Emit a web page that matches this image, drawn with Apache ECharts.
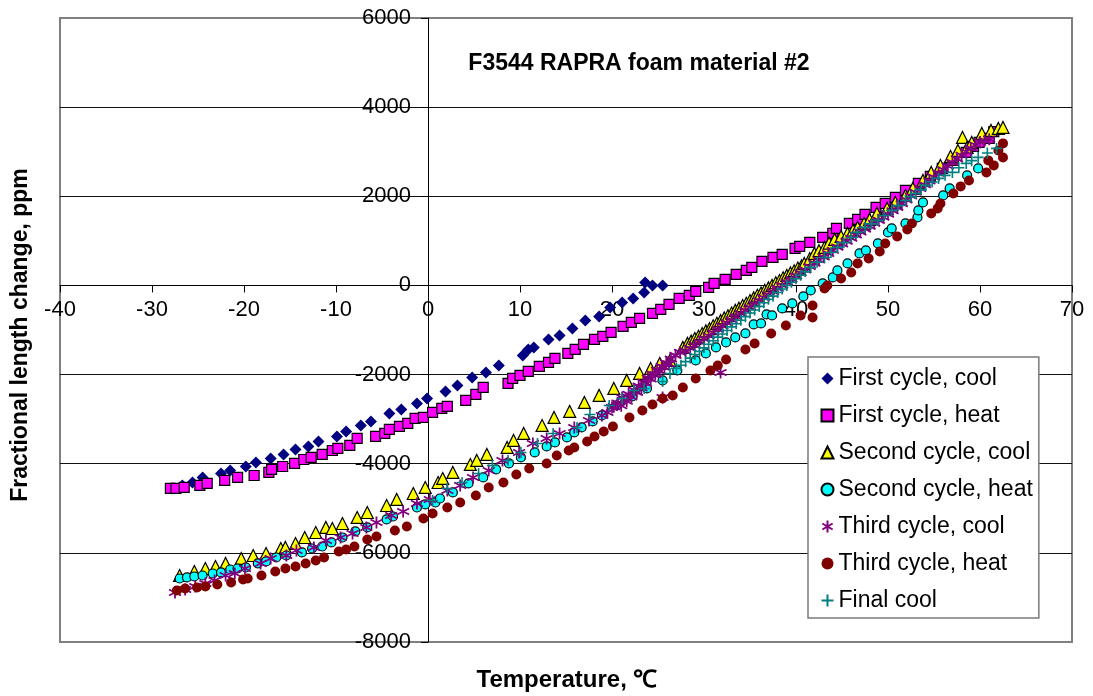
<!DOCTYPE html>
<html>
<head>
<meta charset="utf-8">
<script src="https://cdn.jsdelivr.net/npm/echarts@6/dist/echarts.min.js"></script>
<style>
html,body{margin:0;padding:0;background:#fff;}
#chart{width:1093px;height:696px;}
</style>
</head>
<body>
<div id="chart"></div>
<script>
var titleText = "F3544 RAPRA foam material #2";
var xName = "Temperature, \u2103";
var yName = "Fractional length change, ppm";
var seriesNames = ["First cycle, cool","First cycle, heat","Second cycle, cool","Second cycle, heat","Third cycle, cool","Third cycle, heat","Final cool"];

var firstCool = [[-27.8,-4555],[-26.7,-4488],[-25.6,-4421],[-24.5,-4308],[-22.5,-4219],[-21.5,-4151],[-19.8,-4062],[-18.7,-3972],[-17.1,-3882],[-15.7,-3792],[-14.4,-3680],[-13.0,-3613],[-11.9,-3501],[-9.9,-3388],[-8.9,-3276],[-7.3,-3142],[-6.2,-3052],[-4.2,-2872],[-2.9,-2783],[-1.2,-2648],[-0.1,-2536],[1.9,-2379],[3.2,-2244],[4.8,-2064],[6.3,-1952],[7.7,-1795],[10.3,-1571],[10.9,-1436],[11.5,-1391],[13.1,-1212],[14.3,-1122],[15.7,-965],[17.1,-785],[18.6,-696],[19.8,-494],[21.1,-381],[22.3,-292],[23.5,-157],[23.6,67],[24.4,0],[25.5,0]];

var firstHeat = [[-28.0,-4555],[-27.4,-4555],[-26.5,-4533],[-24.8,-4488],[-24.0,-4443],[-22.1,-4376],[-20.7,-4308],[-18.9,-4264],[-17.3,-4196],[-17.0,-4129],[-15.8,-4062],[-14.5,-3994],[-13.5,-3905],[-12.7,-3860],[-11.5,-3792],[-10.4,-3703],[-9.8,-3658],[-8.5,-3590],[-7.7,-3433],[-5.7,-3388],[-4.7,-3321],[-4.2,-3231],[-3.1,-3164],[-2.2,-3097],[-1.4,-2985],[-0.5,-2962],[0.5,-2850],[1.5,-2760],[2.1,-2715],[4.1,-2581],[5.2,-2446],[6.0,-2289],[8.7,-2199],[9.2,-2087],[10.0,-2020],[10.9,-1930],[12.1,-1818],[13.1,-1728],[13.8,-1638],[15.2,-1526],[16.0,-1436],[16.9,-1324],[18.1,-1212],[19.0,-1144],[19.9,-1055],[21.2,-920],[22.1,-830],[23.0,-741],[24.4,-628],[25.3,-539],[26.2,-426],[27.3,-292],[28.4,-224],[29.1,-135],[30.5,-45],[31.1,45],[32.3,135],[33.5,247],[34.6,337],[35.2,404],[36.3,539],[37.5,628],[38.5,696],[39.9,830],[40.4,875],[41.5,965],[42.9,1077],[44.0,1167],[44.4,1279],[45.8,1391],[46.7,1481],[47.5,1593],[48.7,1750],[49.7,1840],[50.8,1975],[51.9,2132],[53.3,2289],[54.6,2446],[55.9,2625],[57.1,2805],[58.5,2985],[59.3,3119],[59.9,3209],[61.0,3300],[61.5,3450]];

var secondCool = [[-27.0,-6508],[-25.4,-6418],[-24.2,-6351],[-23.1,-6306],[-22.0,-6238],[-20.3,-6126],[-19.0,-6059],[-17.6,-6014],[-16.0,-5902],[-15.5,-5879],[-14.4,-5790],[-13.4,-5655],[-12.2,-5543],[-11.1,-5430],[-10.4,-5453],[-9.3,-5341],[-7.7,-5206],[-6.6,-5094],[-4.5,-4937],[-3.4,-4802],[-1.6,-4668],[-0.3,-4533],[1.1,-4421],[1.6,-4331],[2.7,-4196],[4.6,-4017],[5.3,-3927],[6.4,-3792],[8.6,-3635],[9.3,-3478],[10.4,-3321],[12.4,-3142],[13.7,-2962],[15.4,-2827],[17.0,-2625],[18.6,-2468],[20.2,-2311],[21.6,-2132],[23.0,-1975],[24.2,-1862],[25.2,-1750],[26.3,-1683],[27.7,-1391],[28.2,-1300],[28.6,-1250],[29.0,-1190],[29.4,-1140],[29.8,-1080],[30.2,-1020],[30.6,-970],[31.0,-905],[31.4,-850],[31.8,-790],[32.2,-730],[32.6,-680],[33.0,-620],[33.4,-560],[33.8,-510],[34.2,-450],[34.6,-400],[35.0,-340],[35.4,-280],[35.8,-220],[36.2,-170],[36.6,-110],[37.0,-55],[37.4,0],[37.8,60],[38.2,110],[38.6,170],[39.0,225],[39.4,280],[39.8,330],[40.2,390],[40.6,440],[40.9,494],[41.5,600],[42.0,718],[42.5,780],[43.1,853],[43.6,950],[44.2,1032],[44.9,1100],[45.6,1167],[46.2,1240],[46.7,1302],[47.4,1390],[48.0,1481],[48.8,1616],[49.9,1728],[50.8,1862],[51.9,2020],[52.7,2177],[53.8,2356],[54.7,2536],[55.7,2693],[56.8,2895],[57.6,3029],[58.1,3321],[58.6,3097],[59.1,3209],[60.2,3411],[61.2,3478],[62.0,3523],[62.5,3545]];

var secondHeat = [[-27.0,-6575],[-26.2,-6552],[-25.4,-6530],[-24.5,-6508],[-23.4,-6463],[-22.5,-6440],[-21.5,-6373],[-20.7,-6351],[-19.8,-6328],[-18.5,-6238],[-17.6,-6193],[-16.5,-6104],[-15.4,-6059],[-13.7,-5991],[-12.6,-5902],[-11.5,-5857],[-10.5,-5767],[-9.3,-5655],[-7.9,-5520],[-6.6,-5430],[-4.5,-5251],[-3.8,-5184],[-1.2,-4982],[-0.3,-4914],[0.8,-4870],[1.3,-4780],[2.7,-4645],[4.4,-4443],[6.0,-4308],[7.4,-4129],[8.8,-3994],[10.1,-3860],[11.6,-3747],[12.9,-3613],[13.8,-3523],[15.1,-3411],[15.9,-3299],[16.7,-3186],[17.9,-3052],[18.9,-2917],[20.5,-2693],[22.2,-2491],[23.8,-2311],[25.5,-2132],[27.1,-1907],[29.1,-1683],[30.2,-1526],[31.3,-1391],[32.4,-1279],[33.4,-1167],[34.5,-1077],[35.4,-875],[36.2,-853],[36.8,-651],[37.4,-673],[38.5,-516],[39.6,-404],[40.8,-247],[41.6,-112],[42.9,45],[44.0,180],[44.5,337],[45.6,494],[46.9,718],[47.6,785],[48.9,942],[50.0,1189],[50.4,1279],[51.9,1391],[53.2,1526],[53.3,1683],[53.8,1862],[56.0,2020],[56.7,2177],[58.6,2468],[59.8,2625]];

var thirdCool = [[-27.5,-6889],[-26.4,-6822],[-25.3,-6755],[-24.2,-6687],[-23.2,-6620],[-22.0,-6508],[-21.0,-6463],[-19.9,-6351],[-18.2,-6238],[-17.1,-6126],[-15.4,-6059],[-14.3,-5947],[-12.4,-5879],[-11.1,-5722],[-9.5,-5655],[-8.2,-5565],[-6.7,-5430],[-5.6,-5318],[-4.0,-5161],[-2.7,-5071],[-1.2,-4892],[0.2,-4802],[2.1,-4600],[3.5,-4488],[4.9,-4308],[6.6,-4151],[8.1,-3927],[9.9,-3747],[11.4,-3545],[12.9,-3433],[14.3,-3321],[15.9,-3186],[17.5,-3029],[18.9,-2917],[19.5,-2850],[20.0,-2738],[20.2,-2720],[20.6,-2640],[21.0,-2700],[21.1,-2513],[21.3,-2560],[21.6,-2600],[21.8,-2440],[22.1,-2500],[22.4,-2350],[22.7,-2400],[22.9,-2260],[23.2,-2300],[23.4,-2170],[23.7,-2200],[23.9,-2080],[24.2,-2100],[24.4,-1990],[24.7,-2000],[24.9,-1900],[25.2,-1920],[25.4,-1820],[25.5,-2513],[25.7,-1840],[25.9,-1740],[26.2,-1760],[26.4,-1650],[26.9,-1570],[27.4,-1500],[28.0,-1480],[28.5,-1410],[29.0,-1340],[29.5,-1270],[30.0,-1200],[30.5,-1130],[31.0,-1055],[31.5,-985],[31.8,-1952],[32.0,-910],[32.5,-840],[33.0,-770],[33.5,-700],[34.0,-630],[34.5,-560],[35.0,-490],[35.5,-420],[36.0,-345],[36.5,-275],[37.0,-205],[37.5,-135],[38.0,-65],[38.5,5],[39.0,75],[39.5,145],[40.0,215],[40.5,285],[41.0,350],[41.5,425],[42.0,500],[42.5,570],[43.0,640],[43.5,715],[44.0,790],[44.5,860],[45.0,930],[45.5,995],[46.0,1060],[46.5,1130],[47.0,1200],[47.5,1265],[48.0,1330],[48.5,1395],[49.0,1460],[49.5,1530],[50.0,1600],[50.5,1675],[51.0,1750],[51.5,1835],[52.0,1920],[52.5,2005],[53.0,2090],[53.5,2175],[54.0,2260],[54.5,2345],[55.0,2430],[55.5,2515],[56.0,2600],[56.5,2680],[57.0,2760],[57.5,2840],[58.0,2920],[58.5,3000],[59.0,3080],[59.5,3150],[60.0,3220],[60.5,3250],[61.0,3280]];

var thirdHeat = [[-27.3,-6844],[-26.4,-6799],[-25.1,-6777],[-24.2,-6755],[-22.9,-6710],[-21.4,-6665],[-20.1,-6597],[-19.6,-6575],[-18.1,-6508],[-16.6,-6418],[-15.5,-6351],[-14.4,-6306],[-13.3,-6238],[-12.2,-6171],[-11.3,-6104],[-9.7,-5969],[-8.9,-5924],[-8.0,-5857],[-6.6,-5700],[-5.6,-5632],[-3.6,-5498],[-2.3,-5408],[-0.5,-5229],[0.5,-5116],[2.1,-4982],[3.5,-4870],[5.2,-4712],[6.6,-4533],[8.2,-4421],[9.6,-4241],[11.0,-4107],[12.9,-3994],[14.0,-3815],[15.3,-3703],[15.9,-3635],[17.3,-3501],[18.1,-3388],[19.1,-3276],[20.1,-3164],[21.9,-2962],[23.3,-2805],[24.4,-2670],[25.5,-2536],[26.6,-2468],[27.7,-2289],[29.1,-2087],[30.7,-1907],[31.5,-1795],[32.4,-1661],[34.5,-1436],[35.5,-1302],[37.3,-1077],[38.9,-898],[40.5,-673],[41.8,-449],[41.8,-720],[43.1,-67],[43.4,0],[44.9,157],[46.0,292],[46.7,494],[47.9,606],[49.1,763],[49.7,942],[51.0,1100],[52.1,1257],[52.6,1391],[54.7,1616],[55.4,1728],[55.7,1840],[57.1,2064],[57.9,2222],[58.8,2356],[60.7,2536],[61.5,2693],[62.5,2872],[60.9,2805],[62.0,3029],[62.5,3187]];

var finalCool = [[0.5,-4825],[2.1,-4555],[3.7,-4421],[5.5,-4219],[7.0,-4039],[8.7,-3927],[10.1,-3747],[11.9,-3545],[13.6,-3321],[16.2,-3186],[17.6,-2895],[19.7,-2693],[21.1,-2536],[22.4,-2356],[23.5,-2311],[25.5,-2154],[26.3,-1975],[27.0,-1860],[27.5,-1790],[28.0,-1710],[28.5,-1630],[29.0,-1550],[29.5,-1480],[30.0,-1400],[30.5,-1320],[31.0,-1240],[31.5,-1160],[32.0,-1090],[32.5,-1010],[33.0,-930],[33.5,-860],[34.0,-780],[34.5,-700],[35.0,-620],[35.5,-550],[36.0,-470],[36.5,-390],[37.0,-310],[37.5,-240],[38.0,-160],[38.5,-80],[39.0,0],[39.5,70],[40.0,150],[40.5,230],[41.0,310],[41.6,404],[42.3,520],[43.1,628],[43.8,740],[44.5,853],[45.2,960],[46.0,1077],[46.7,1190],[47.5,1302],[48.2,1380],[48.9,1459],[49.6,1570],[50.4,1683],[51.1,1790],[51.9,1907],[52.5,1990],[53.0,2064],[53.6,2150],[54.1,2244],[54.8,2320],[55.5,2401],[56.2,2470],[57.0,2536],[57.7,2640],[58.5,2738],[59.1,2800],[59.8,2872],[60.8,2970],[61.8,3074]];

var xTicks = {min: -40, max: 70, step: 10};
var yTicks = {min: -8000, max: 6000, step: 2000};

var FONT = "Arial, 'Liberation Sans', sans-serif";
var asterisk = "path://M5,0L5,10M0.7,2.5L9.3,7.5M0.7,7.5L9.3,2.5";
var plus = "path://M5,0L5,10M0,5L10,5";

var G = {left: 60, top: 18, right: 21, bottom: 54};
var W = 1093, H = 696;
var gw = W - G.left - G.right, gh = H - G.top - G.bottom;
// distance from the grid edges to the zero lines (axes cross at 0 like the original)
var xAxisOffset = -gh * (0 - yTicks.min) / (yTicks.max - yTicks.min);
var yAxisOffset = -gw * (0 - xTicks.min) / (xTicks.max - xTicks.min);
function plain(v) { return String(v); }

var chart = echarts.init(document.getElementById('chart'), null, {renderer: 'canvas'});
var option = {
  backgroundColor: '#ffffff',
  animation: false,
  textStyle: {fontFamily: FONT},
  title: {
    text: titleText,
    left: 634, top: 47, textAlign: 'center',
    textStyle: {fontFamily: FONT, fontSize: 23, fontWeight: 'bold', color: '#000'}
  },
  grid: {left: G.left, top: G.top, right: G.right, bottom: G.bottom, outerBoundsMode: 'none', containLabel: false,
         show: true, borderColor: '#808080', borderWidth: 2, backgroundColor: 'transparent'},
  xAxis: {
    type: 'value', min: xTicks.min, max: xTicks.max, interval: xTicks.step,
    position: 'bottom', offset: xAxisOffset,
    axisLine: {onZero: false, lineStyle: {color: '#000', width: 1}},
    axisTick: {show: true, length: 7, lineStyle: {color: '#000'}},
    axisLabel: {fontFamily: FONT, fontSize: 22, color: '#000', margin: 14, showMinLabel: true, showMaxLabel: true, formatter: plain},
    splitLine: {show: false}
  },
  yAxis: {
    type: 'value', min: yTicks.min, max: yTicks.max, interval: yTicks.step,
    position: 'left', offset: yAxisOffset,
    axisLine: {onZero: false, lineStyle: {color: '#000', width: 1}},
    axisTick: {show: true, length: 7, lineStyle: {color: '#000'}},
    axisLabel: {fontFamily: FONT, fontSize: 22, color: '#000', margin: 17, showMinLabel: true, showMaxLabel: true, formatter: plain},
    splitLine: {show: true, showMinLine: false, showMaxLine: false, lineStyle: {color: '#111', width: 1}}
  },
  legend: {
    orient: 'vertical', left: 808, top: 357,
    padding: [10, 6, 6, 11],
    itemGap: 14, itemWidth: 12, itemHeight: 12,
    backgroundColor: '#fff', borderColor: '#7a7a7a', borderWidth: 1.5,
    textStyle: {fontFamily: FONT, fontSize: 23, color: '#000', lineHeight: 22},
    data: seriesNames
  },
  graphic: [
    {type: 'text', rotation: Math.PI / 2, style: {text: yName, font: "bold 23px " + FONT, fill: '#000', textAlign: 'center', textVerticalAlign: 'middle'}, x: 21, y: 335},
    {type: 'text', style: {text: xName, font: "bold 24px " + FONT, fill: '#000', textAlign: 'center', textVerticalAlign: 'middle'}, x: 567, y: 680}
  ],
  series: [
    {name: seriesNames[0], type: 'scatter', data: firstCool, symbol: 'diamond', symbolSize: 12, itemStyle: {color: '#000080', opacity: 1}},
    {name: seriesNames[1], type: 'scatter', data: firstHeat, symbol: 'rect', symbolSize: 10, itemStyle: {color: '#ff00ff', borderColor: '#000', borderWidth: 1.2, opacity: 1}},
    {name: seriesNames[2], type: 'scatter', data: secondCool, symbol: 'triangle', symbolSize: 12, itemStyle: {color: '#ffff00', borderColor: '#000', borderWidth: 1.2, opacity: 1}},
    {name: seriesNames[3], type: 'scatter', data: secondHeat, symbol: 'circle', symbolSize: 9, itemStyle: {color: '#00ffff', borderColor: '#000', borderWidth: 1.2, opacity: 1}},
    {name: seriesNames[4], type: 'scatter', data: thirdCool, symbol: asterisk, symbolSize: 12, itemStyle: {color: 'none', borderColor: '#800080', borderWidth: 1.8, opacity: 1}},
    {name: seriesNames[5], type: 'scatter', data: thirdHeat, symbol: 'circle', symbolSize: 10, itemStyle: {color: '#800000', opacity: 1}},
    {name: seriesNames[6], type: 'scatter', data: finalCool, symbol: plus, symbolSize: 11, itemStyle: {color: 'none', borderColor: '#008080', borderWidth: 1.6, opacity: 1}}
  ]
};
chart.setOption(option);
</script>
</body>
</html>
